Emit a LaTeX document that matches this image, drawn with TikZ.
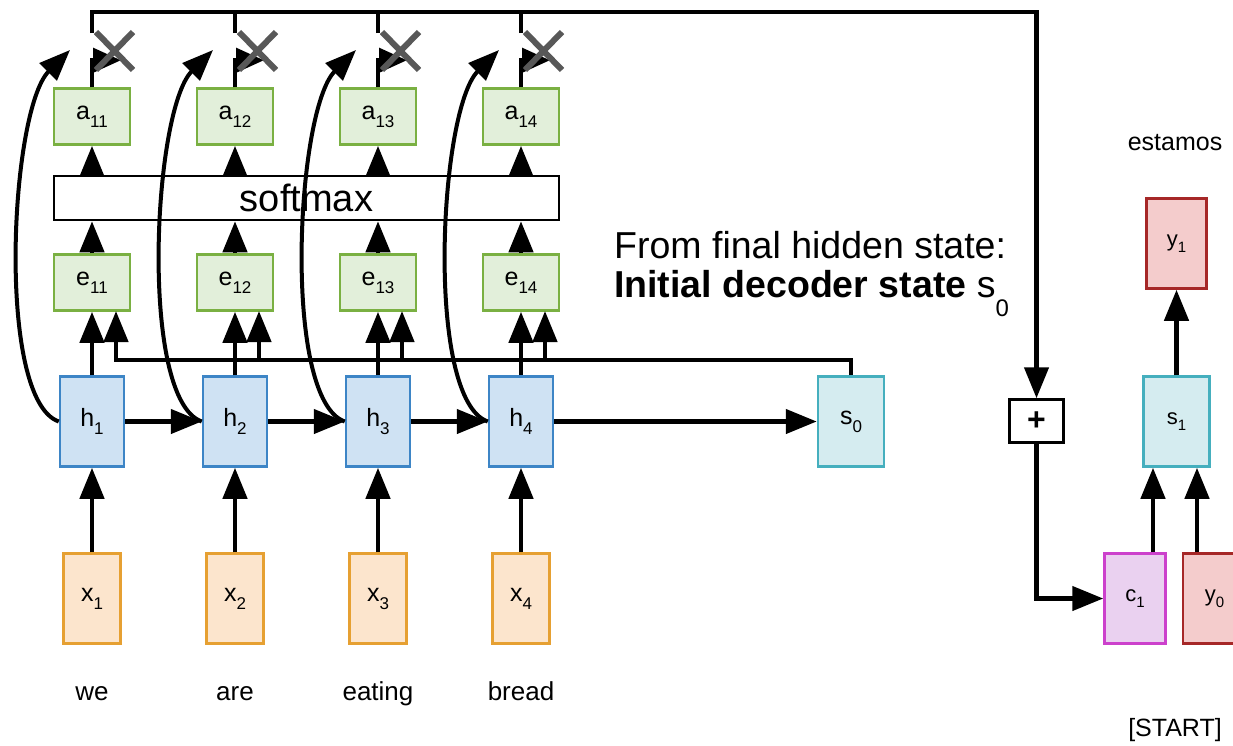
\documentclass[tikz,border=0pt]{standalone}
\usepackage{fontspec}
\setmainfont{Liberation Sans}
\usetikzlibrary{arrows.meta,calc}
\definecolor{gfill}{HTML}{E2EFDA}
\definecolor{gline}{RGB}{122,176,66}
\definecolor{hfill}{HTML}{CFE2F3}
\definecolor{hline}{HTML}{3D85C6}
\definecolor{xfill}{HTML}{FCE5CD}
\definecolor{xline}{RGB}{230,160,50}
\definecolor{sfill}{RGB}{213,236,240}
\definecolor{sline}{RGB}{69,175,190}
\definecolor{cfill}{RGB}{234,209,240}
\definecolor{cline}{RGB}{204,65,204}
\definecolor{yfill}{HTML}{F4CCCC}
\definecolor{yline}{RGB}{166,40,40}
\definecolor{xgray}{RGB}{88,88,88}
\newcommand\lb[1]{\raisebox{-8pt}{\fontsize{17}{17}\selectfont #1}}
\newcommand\lbs[1]{\raisebox{-6pt}{\fontsize{15}{15}\selectfont #1}}
\begin{document}
\begin{tikzpicture}[x=1pt,y=-1pt,
  conn/.style={line width=4.5pt},
  curv/.style={line width=4pt},
  >={Triangle[length=31pt,width=24pt]},
  flagtip/.style={-{Triangle[length=28pt,width=24pt]}},
  bx/.style={draw, line width=2.5pt, inner sep=0pt, font=\fontsize{25}{25}\selectfont},
  gbox/.style={bx, fill=gfill, draw=gline, minimum width=76pt, minimum height=56pt},
  hbox/.style={bx, fill=hfill, draw=hline, minimum width=64pt, minimum height=90pt},
  xbox/.style={bx, fill=xfill, draw=xline, minimum width=57pt, minimum height=90pt},
  sbox/.style={bx, fill=sfill, draw=sline, minimum width=66pt, minimum height=90pt},
  dbox/.style={bx, font=\fontsize{22}{22}\selectfont, minimum height=90pt},
  wordlbl/.style={font=\fontsize{26}{26}\selectfont, anchor=base, inner sep=0pt},
  crossmark/.style={draw=xgray, line width=6pt},
]
\useasboundingbox (0,0) rectangle (1233,745);
\clip (0,0) rectangle (1233,745);

% softmax box
\node[draw, line width=2.5pt, fill=white, minimum width=505pt, minimum height=44pt,
      inner sep=0pt, font=\fontsize{38}{38}\selectfont] (sm) at (306.5,198) {softmax};

% encoder columns
\foreach \i/\cx/\w in {1/92/we,2/235/are,3/378/eating,4/521/bread}{
  \node[gbox] (a\i) at (\cx,116.5) {a\lb{1\i}};
  \node[gbox] (e\i) at (\cx,282.5) {e\lb{1\i}};
  \node[hbox] (h\i) at (\cx,421.5) {h\lb{\i}};
  \node[xbox] (x\i) at (\cx,598.5) {x\lb{\i}};
  \node[wordlbl] (w\i) at (\cx,700) {\w};
  \coordinate (t\i) at (\cx,12);
  \coordinate (m\i) at (\cx,33);
  \coordinate (tip\i) at (\cx-22,50);
  \coordinate (ex\i) at (\cx+24,311);
}

% decoder side
\node[sbox] (s0) at (851,421.5) {s\lb{0}};
\node[draw, line width=2.5pt, fill=white, minimum width=54pt, minimum height=43pt,
      inner sep=0pt, font=\fontsize{32}{32}\selectfont\bfseries] (plus) at (1036.5,421) {+};
\node[dbox, fill=cfill, draw=cline, minimum width=61pt] (c1) at (1135,598.5) {c\lbs{1}};
\node[dbox, fill=yfill, draw=yline, minimum width=63pt] (y0) at (1214.5,598.5) {y\lbs{0}};
\node[dbox, fill=sfill, draw=sline, minimum width=66pt] (s1) at (1176.5,421.5) {s\lbs{1}};
\node[dbox, fill=yfill, draw=yline, minimum width=60pt] (y1) at (1176.5,243.5) {y\lbs{1}};
\node[wordlbl, font=\fontsize{25}{25}\selectfont] (est) at (1175,150) {estamos};
\node[wordlbl, font=\fontsize{25}{25}\selectfont] (start) at (1175,736) {[START]};

% text
\node[anchor=base west, inner sep=0pt, font=\fontsize{37.5}{37.5}\selectfont] (txtA) at (614,258) {From final hidden state:};
\node[anchor=base west, inner sep=0pt, font=\fontsize{37.5}{37.5}\selectfont] (txtB) at (614,297)
  {\textbf{Initial decoder state} s\raisebox{-19pt}{\fontsize{24}{24}\selectfont 0}};

% bus from s0
\coordinate (bus) at (851,360);
\draw[conn,->] (s0.north) -- (bus) -- (bus -| ex1) -- (ex1);

% column connectors
\foreach \i in {1,...,4}{
  \draw[conn,->] (x\i.north) -- (h\i.south);
  \draw[conn,->] (h\i.north) -- (e\i.south);
  \draw[conn,->] (e\i.north) -- (e\i.north |- sm.south);
  \draw[conn,->] (a\i.south |- sm.north) -- (a\i.south);
  \draw[conn,flagtip] (a\i.north) -- ++(0,-27) -- ++(29,0);
}
\foreach \i in {2,3,4}{
  \draw[conn,->] (bus -| ex\i) -- (ex\i);
  \draw[conn] (m\i) -- (t\i);
}
\draw[conn,->] (m1) -- (t1) -| (plus.north);

% recurrent arrows
\draw[conn,->] (h1.east) -- (h2.west);
\draw[conn,->] (h2.east) -- (h3.west);
\draw[conn,->] (h3.east) -- (h4.west);
\draw[conn,->] (h4.east) -- (s0.west);

% curved arrows
\foreach \i in {1,...,4}{
  \draw[curv,->] (h\i.west) .. controls +(-63,-22) and +(-60,60) .. (tip\i);
}

% multiply crosses
\foreach \i in {1,...,4}{
  \draw[crossmark] ([shift={(4,-1)}]m\i) -- ([shift={(41,37)}]m\i)
                   ([shift={(41,-1)}]m\i) -- ([shift={(4,37)}]m\i);
}

% decoder connectors
\draw[conn,->] (plus.south) |- (c1.west);
\draw[conn,->] (s1.north) -- (y1.south);
\draw[conn,->] ([xshift=18pt]c1.north) -- ([xshift=18pt]c1.north |- s1.south);
\draw[conn,->] ([xshift=-17.5pt]y0.north) -- ([xshift=-17.5pt]y0.north |- s1.south);
\end{tikzpicture}
\end{document}
